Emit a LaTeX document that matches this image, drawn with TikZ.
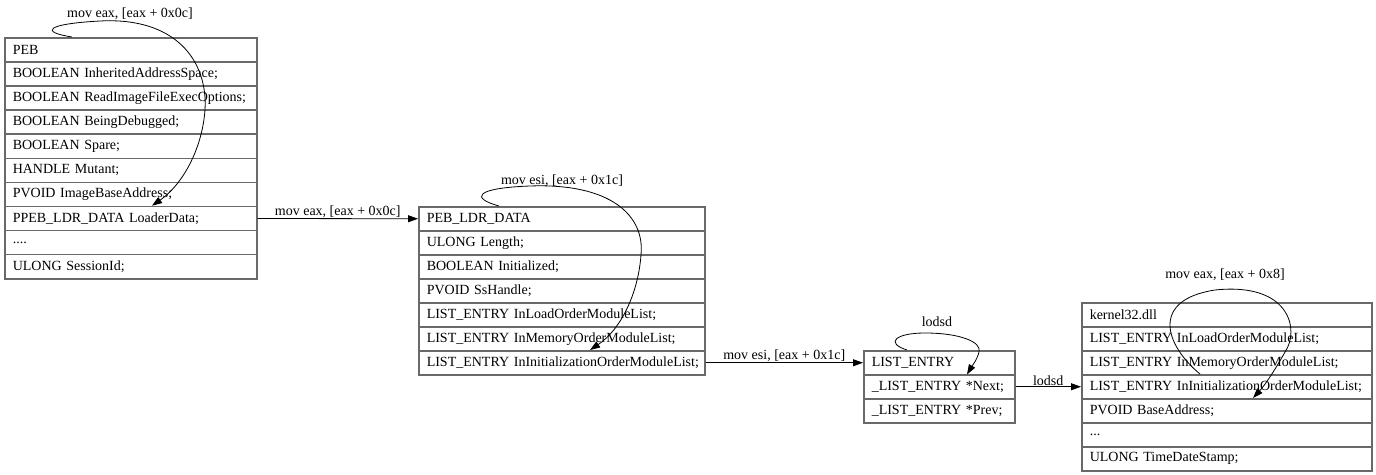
\documentclass[tikz,border=0pt]{standalone}
\usepackage{fontspec}
\setmainfont{Liberation Serif}
\usetikzlibrary{arrows.meta}
\definecolor{boxline}{RGB}{105,105,105}
\newcommand\myfourdots{....}
\newcommand\mythreedots{...}
\tikzset{
  rec/.style={draw=boxline, line width=1.5pt, anchor=north west, inner xsep=8pt, inner ysep=0pt,
    align=left, font=\fontsize{14}{16}\selectfont},
  edge/.style={draw=black, line width=0.8pt, -{Triangle[length=10pt,width=7pt]}},
  lbl/.style={font=\fontsize{14}{16}\selectfont, inner sep=0.5pt}
}
\begin{document}
\begin{tikzpicture}[x=1pt,y=-1pt]
\useasboundingbox (0,0) rectangle (1376,474);
% PEB
\foreach \t [count=\i from 0] in {PEB, BOOLEAN InheritedAddressSpace;, BOOLEAN ReadImageFileExecOptions;, BOOLEAN BeingDebugged;, BOOLEAN Spare;, HANDLE Mutant;, PVOID ImageBaseAddress;, PPEB\_LDR\_DATA LoaderData;, \myfourdots, ULONG SessionId;}
  \node[rec, text width=236pt, minimum height=24.1pt] (peb\i) at (4,{37+24.1*\i}) {\mbox{\t}};
% PEB_LDR_DATA
\foreach \t [count=\i from 0] in {PEB\_LDR\_DATA, ULONG Length;, BOOLEAN Initialized;, PVOID SsHandle;, LIST\_ENTRY InLoadOrderModuleList;, LIST\_ENTRY InMemoryOrderModuleList;, LIST\_ENTRY InInitializationOrderModuleList;}
  \node[rec, text width=270pt, minimum height=24pt] (ldr\i) at (418,{206+24*\i}) {\mbox{\t}};
% LIST_ENTRY
\foreach \t [count=\i from 0] in {LIST\_ENTRY, \_LIST\_ENTRY *Next;, \_LIST\_ENTRY *Prev;}
  \node[rec, text width=135pt, minimum height=24pt] (le\i) at (863,{350+24*\i}) {\mbox{\t}};
% kernel32.dll
\foreach \t [count=\i from 0] in {kernel32.dll, LIST\_ENTRY InLoadOrderModuleList;, LIST\_ENTRY InMemoryOrderModuleList;, LIST\_ENTRY InInitializationOrderModuleList;, PVOID BaseAddress;, \mythreedots, ULONG TimeDateStamp;}
  \node[rec, text width=274pt, minimum height=24pt] (k\i) at (1081,{302+24*\i}) {\mbox{\t}};

% straight edges
\draw[edge] (peb7.east) -- node[above, lbl] (l1) {mov eax, [eax + 0x0c]} (ldr0.west);
\draw[edge] (ldr6.east) -- node[above, lbl] (l2) {mov esi, [eax + 0x1c]} (le0.west);
\draw[edge] (le1.east) -- node[above, lbl] (l3) {lodsd} (k3.west);

% self loops
\draw[edge] ([xshift=68pt]peb0.north west) .. controls (40,32) and (45,24) .. (100,21)
  .. controls (175,17) and (208,60) .. (205,110)
  .. controls (202,150) and (182,185) .. ([xshift=148pt]peb7.north west);
\node[lbl] (s1) at (130,14) {mov eax, [eax + 0x0c]};

\draw[edge] ([xshift=81pt]ldr0.north west) .. controls (470,198) and (475,188) .. (530,186)
  .. controls (610,183) and (645,215) .. (641,255)
  .. controls (638,295) and (620,330) .. ([xshift=172pt]ldr6.north west);
\node[lbl] (s2) at (562,181) {mov esi, [eax + 0x1c]};

\draw[edge] ([xshift=44pt]le0.north west) .. controls (885,343) and (895,333) .. (925,333)
  .. controls (960,333) and (982,342) .. (979,352)
  .. controls (977,360) and (972,366) .. ([xshift=104pt,yshift=1pt]le0.south west);
\node[lbl] (s3) at (937,322) {lodsd};

\draw[edge] ([xshift=119pt]k3.north west) .. controls (1165,345) and (1150,300) .. (1215,290)
  .. controls (1290,282) and (1300,330) .. (1285,352)
  .. controls (1275,370) and (1265,385) .. ([xshift=172pt]k4.north west);
\node[lbl] (s4) at (1225,275) {mov eax, [eax + 0x8]};
\end{tikzpicture}
\end{document}
